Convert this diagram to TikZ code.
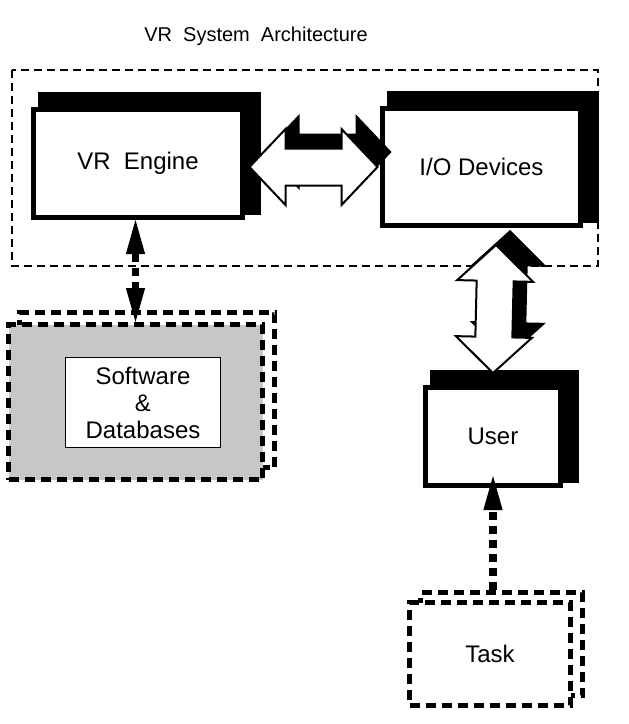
\documentclass[tikz,border=0pt]{standalone}
\usepackage{fontspec}
\setmainfont{Liberation Sans}
\usetikzlibrary{arrows.meta}
\usetikzlibrary{calc}
\usetikzlibrary{backgrounds}

\tikzset{
  box/.style={draw, fill=white, line width=5pt},
  dbox/.style={draw, line width=5pt, dash pattern=on 10pt off 6pt},
  % hollow double arrow between two tips
  fatpath/.style 2 args={insert path={
    coordinate (h1) at ($(#1)!36pt!(#2)$) coordinate (h2) at ($(#2)!36pt!(#1)$)
    (#1) -- ($(h1)!38pt!90:(#2)$) -- ($(h1)!18.5pt!90:(#2)$)
    -- ($(h2)!18.5pt!-90:(#1)$) -- ($(h2)!38pt!-90:(#1)$) -- (#2)
    -- ($(h2)!38pt!90:(#1)$) -- ($(h2)!18.5pt!90:(#1)$)
    -- ($(h1)!18.5pt!-90:(#2)$) -- ($(h1)!38pt!-90:(#2)$) -- cycle}},
  fatshadow/.style={fill=black, transform canvas={xshift=14pt, yshift=15pt}},
  fatarrow/.style={draw, fill=white, line width=2pt, line join=miter},
  dasharrow/.style={line width=7.5pt, dash pattern=on 8pt off 6pt},
  >={Triangle[length=34pt,width=19pt,line width=1pt]}
}

\begin{document}
\begin{tikzpicture}[x=1pt, y=-1pt, font=\fontsize{24}{27}\selectfont]
  \useasboundingbox (0,0) rectangle (629,724);
  \node[font=\fontsize{20}{24}\selectfont] (title) at (256,36) {VR\ \ System\ \ Architecture};

  \node[box, minimum width=209pt, minimum height=108pt] (engine) at (138,163.5) {VR\ \ Engine};
  \node[box, minimum width=198pt, minimum height=117pt] (io) at (481.5,167) {I/O Devices};
  \node[box, minimum width=135pt, minimum height=98pt] (user) at (493,436.5) {User};

  \node[dbox, minimum width=255pt, minimum height=155pt] (swbk) at (147,390) {};
  \node[dbox, fill=black!22, minimum width=254pt, minimum height=155pt] (sw) at (135.5,402) {};
  \node[draw, fill=white, line width=1.2pt, minimum width=155pt, minimum height=90pt,
    align=center] (db) at (143,402.5) {Software\\\&\\Databases};

  \node[dbox, minimum width=162pt, minimum height=103pt] (taskbk) at (501.5,644) {};
  \node[dbox, fill=white, minimum width=161pt, minimum height=103pt] (task) at (490,654) {Task};

  \coordinate (e1) at ($(engine.east |- io.west)+(4.5,0)$);
  \coordinate (e2) at ($(io.west)+(-2.5,0)$);
  \coordinate (u1) at ($(io.south -| user.north)+(3,17)$);
  \coordinate (u2) at ($(user.north)+(0,-12)$);
  \foreach \a/\b in {e1/e2, u1/u2} {
    \path[fatshadow, fatpath={\a}{\b}];
    \path[fatarrow, fatpath={\a}{\b}];
  }

  \draw[dasharrow, <->] (engine.south -| sw.north) -- (sw.north);
  \draw[dasharrow, ->] (taskbk.north -| user.south) -- ([yshift=12pt]user.south);

  \begin{scope}[on background layer]
    \draw[line width=1.5pt, dash pattern=on 8pt off 5pt] (12,70) rectangle (598,266);
    \foreach \n in {engine,io,user}
      \fill ($(\n.north west)+(6.5,-15.5)$) rectangle ($(\n.south east)+(15.5,-5.5)$);
  \end{scope}
\end{tikzpicture}
\end{document}
